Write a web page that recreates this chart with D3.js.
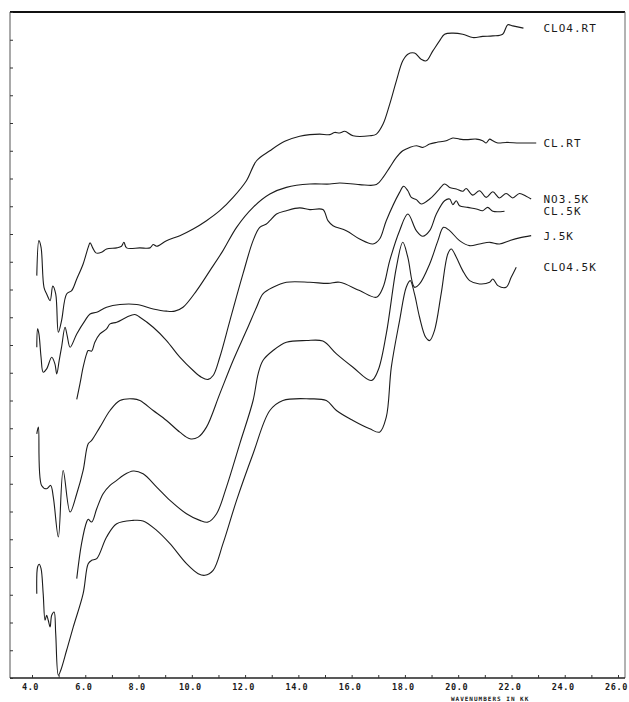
<!DOCTYPE html>
<html>
<head>
<meta charset="utf-8">
<script src="https://cdn.jsdelivr.net/npm/d3@7"></script>
<style>
  body { margin: 0; background: #ffffff; }
  svg text { font-family: "DejaVu Sans Mono", "Liberation Mono", monospace; fill: #1a1a1a; }
</style>
</head>
<body>
<svg id="chart" width="629" height="702"></svg>
<script>
// Reflectance spectra, offset vertically; x in wavenumbers (kK), y in arbitrary offset units.
const seriesNames = ["CLO4.RT", "CL.RT", "NO3.5K", "CL.5K", "J.5K", "CLO4.5K"];

const clo4RT = [
  [4.18,72.5],[4.26,78.8],[4.34,77.6],[4.45,70.4],[4.55,69.2],[4.68,68.0],[4.78,70.6],[4.89,69.2],
  [4.99,62.3],[5.11,64.4],[5.30,69.2],[5.49,69.8],[5.68,71.9],[5.92,74.6],[6.11,77.6],[6.18,78.4],
  [6.28,77.5],[6.40,76.6],[6.61,76.7],[6.80,77.3],[7.18,77.5],[7.36,77.8],[7.45,78.5],[7.55,77.5],
  [8.05,77.5],[8.43,77.5],[8.55,78.1],[8.68,77.8],[9.05,78.8],[9.55,79.7],[10.05,80.9],[10.55,82.4],
  [11.05,84.2],[11.55,86.6],[12.05,89.6],[12.43,93.2],[12.93,95.0],[13.49,96.7],[14.05,97.6],[14.43,97.9],
  [14.80,98.0],[15.18,97.9],[15.36,98.3],[15.55,98.2],[15.74,98.5],[16.05,97.7],[16.68,97.7],[16.93,98.0],
  [17.18,99.8],[17.43,103.4],[17.68,107.6],[17.92,111.2],[18.11,112.4],[18.36,112.6],[18.61,111.5],[18.80,111.2],
  [19.05,113.0],[19.30,114.8],[19.49,116.0],[19.80,116.2],[20.17,116.0],[20.55,115.4],[20.92,115.6],[21.30,115.7],
  [21.67,116.0],[21.86,117.7],[22.05,117.5],[22.45,117.1]
];

const clRT = [
  [4.18,59.6],[4.21,62.9],[4.26,62.0],[4.34,57.8],[4.42,55.1],[4.55,55.7],[4.74,57.8],[4.86,56.6],
  [4.93,54.8],[5.02,57.2],[5.11,59.6],[5.24,63.2],[5.32,61.7],[5.43,59.6],[5.68,62.0],[5.99,64.4],
  [6.18,65.6],[6.43,65.9],[6.80,66.8],[7.30,67.3],[7.93,67.3],[8.55,66.5],[9.05,66.1],[9.36,66.1],
  [9.67,66.8],[10.18,69.8],[10.68,73.4],[11.17,77.0],[11.68,81.2],[12.30,84.8],[12.93,87.2],[13.55,88.4],
  [14.43,89.0],[15.18,89.0],[15.55,89.2],[16.30,88.9],[16.93,88.9],[17.18,90.2],[17.43,92.0],[17.68,93.8],
  [17.92,95.0],[18.18,95.6],[18.43,95.9],[18.67,95.6],[18.93,96.2],[19.18,96.5],[19.55,96.8],[19.80,97.3],
  [20.05,97.1],[20.30,97.0],[20.68,97.1],[20.92,96.8],[21.05,96.4],[21.18,97.1],[21.30,96.8],[21.49,96.4],
  [21.80,96.5],[22.30,96.4],[22.93,96.4]
];

const no3K5 = [
  [5.68,50.2],[5.80,53.0],[5.92,56.0],[6.05,58.4],[6.11,59.0],[6.24,58.9],[6.36,60.5],[6.55,62.0],
  [6.80,62.9],[6.93,63.8],[7.18,64.1],[7.55,65.0],[7.86,65.5],[8.05,65.0],[8.55,63.2],[9.05,60.8],
  [9.55,57.8],[10.05,55.4],[10.36,54.2],[10.61,53.8],[10.80,54.5],[11.05,57.8],[11.43,64.4],[11.92,72.8],
  [12.30,78.8],[12.55,81.2],[12.80,81.8],[12.93,82.4],[13.18,83.6],[13.55,84.2],[14.05,84.7],[14.43,84.4],
  [14.92,84.4],[15.11,82.4],[15.30,81.5],[15.80,80.6],[16.30,79.1],[16.80,78.2],[17.05,79.1],[17.30,82.4],
  [17.80,87.5],[17.95,88.6],[18.11,87.8],[18.24,86.6],[18.43,86.2],[18.61,85.4],[18.93,86.3],[19.24,87.8],
  [19.49,89.0],[19.68,88.4],[19.93,88.1],[20.17,87.7],[20.30,88.2],[20.55,87.0],[20.80,87.8],[21.05,86.6],
  [21.30,87.6],[21.55,86.5],[21.80,87.3],[22.05,86.5],[22.30,87.3],[22.55,86.8],[22.74,86.3]
];

const clK5 = [
  [4.18,44.0],[4.24,45.2],[4.36,34.7],[4.55,34.1],[4.70,34.7],[4.80,32.6],[4.99,25.4],[5.17,37.4],
  [5.43,29.9],[5.68,33.2],[5.92,37.4],[6.11,42.2],[6.24,42.8],[6.55,45.2],[6.93,48.2],[7.30,50.0],
  [7.80,50.3],[8.05,50.0],[8.55,48.2],[9.05,46.4],[9.55,44.3],[9.93,43.1],[10.24,43.4],[10.55,45.2],
  [11.05,51.2],[11.55,57.2],[12.05,62.6],[12.43,66.8],[12.67,69.2],[13.05,70.4],[13.55,71.3],[14.43,71.3],
  [15.11,71.1],[15.55,71.3],[16.30,69.8],[16.93,68.6],[17.18,70.4],[17.43,75.2],[17.80,80.6],[18.11,83.6],
  [18.43,80.6],[18.67,79.6],[18.93,80.6],[19.18,83.6],[19.49,86.0],[19.68,86.3],[19.80,85.3],[19.93,86.0],
  [20.05,85.1],[20.36,84.8],[20.68,84.5],[20.92,84.2],[21.11,84.8],[21.30,84.1],[21.74,84.1]
];

const jK5 = [
  [5.68,17.9],[5.86,24.2],[6.05,28.1],[6.11,28.6],[6.24,28.1],[6.43,30.5],[6.67,33.2],[6.93,34.7],
  [7.18,35.6],[7.42,36.5],[7.80,37.3],[8.17,36.8],[8.68,34.4],[9.18,32.0],[9.80,29.6],[10.30,28.4],
  [10.61,28.1],[10.93,29.6],[11.30,34.4],[11.80,42.2],[12.30,50.0],[12.49,54.8],[12.67,57.2],[13.05,59.0],
  [13.55,60.5],[14.30,60.8],[14.92,60.7],[15.43,58.4],[16.05,56.0],[16.74,53.6],[16.99,55.4],[17.30,62.0],
  [17.68,74.0],[17.92,78.5],[18.11,75.8],[18.36,70.4],[18.55,71.0],[18.93,74.6],[19.24,78.8],[19.45,81.2],
  [19.68,80.6],[20.05,78.8],[20.43,77.9],[20.80,78.2],[21.18,78.5],[21.55,78.2],[21.93,78.8],[22.30,79.3],
  [22.74,79.7]
];

const clo4K5 = [
  [4.18,15.2],[4.21,20.0],[4.27,20.5],[4.34,19.7],[4.42,15.2],[4.49,10.4],[4.55,11.3],[4.61,10.4],
  [4.68,9.2],[4.74,11.3],[4.83,11.9],[4.89,8.0],[4.99,0.5],[5.08,1.4],[5.30,5.0],[5.55,9.2],
  [5.92,15.2],[6.11,20.6],[6.24,21.2],[6.43,21.5],[6.80,25.4],[7.18,27.8],[7.80,28.4],[8.17,28.3],
  [8.68,26.6],[9.18,24.2],[9.80,20.6],[10.24,18.8],[10.49,18.5],[10.80,19.4],[11.17,24.2],[11.68,32.0],
  [12.30,40.4],[12.93,48.2],[13.42,50.0],[14.43,50.3],[15.05,50.0],[15.43,48.2],[16.05,46.4],[16.68,44.9],
  [17.05,44.3],[17.30,47.0],[17.49,56.0],[17.80,64.4],[18.05,70.4],[18.20,71.6],[18.36,69.2],[18.55,65.0],
  [18.78,61.4],[18.93,60.8],[19.11,62.6],[19.36,69.2],[19.61,76.4],[19.74,77.3],[19.93,75.8],[20.17,73.4],
  [20.43,71.6],[20.80,71.0],[21.18,71.3],[21.30,71.9],[21.49,70.7],[21.80,70.4],[21.99,72.2],[22.18,74.0]
];

const seriesValues = [clo4RT, clRT, no3K5, clK5, jK5, clo4K5];

// Axis ticks and labels
const xTickValues = [4, 6, 8, 10, 12, 14, 16, 18, 20, 22, 24, 26];
const xTickLabels = ["4.0", "6.0", "8.0", "10.0", "12.0", "14.0", "16.0", "18.0", "20.0", "22.0", "24.0", "26.0"];
const xMinorTicks = d3.range(4, 27, 1);
const yTickValues = d3.range(0, 121, 5);
const xAxisTitle = "WAVENUMBERS IN KK";
const labelPosition = 23.2; // wavenumber at which the series names start

const svg = d3.select("#chart");

const x = d3.scaleLinear().domain([4, 26]).range([32, 618]);
const y = d3.scaleLinear().domain([0, 120]).range([678, 12]);

const frame = { left: 10, right: 625, top: 12, bottom: 678 };

// Frame
svg.append("line").attr("x1", frame.left).attr("x2", frame.right)
  .attr("y1", frame.top).attr("y2", frame.top)
  .attr("stroke", "#111").attr("stroke-width", 2);
svg.append("line").attr("x1", frame.left).attr("x2", frame.left)
  .attr("y1", frame.top).attr("y2", frame.bottom)
  .attr("stroke", "#555").attr("stroke-width", 1);
svg.append("line").attr("x1", frame.right).attr("x2", frame.right)
  .attr("y1", frame.top).attr("y2", frame.bottom)
  .attr("stroke", "#666").attr("stroke-width", 1);
svg.append("line").attr("x1", frame.left).attr("x2", frame.right)
  .attr("y1", frame.bottom).attr("y2", frame.bottom)
  .attr("stroke", "#222").attr("stroke-width", 1.3);

// Left axis ticks (no labels)
const yAxis = d3.axisRight(y).tickValues(yTickValues).tickSize(3).tickFormat("");
const gy = svg.append("g").attr("transform", `translate(${frame.left},0)`).call(yAxis);
gy.select(".domain").remove();
gy.selectAll(".tick line").attr("stroke", "#333");

// Bottom axis: minor ticks
const xMinor = d3.axisTop(x).tickValues(xMinorTicks).tickSize(3).tickFormat("");
const gxm = svg.append("g").attr("transform", `translate(0,${frame.bottom})`).call(xMinor);
gxm.select(".domain").remove();
gxm.selectAll(".tick line").attr("stroke", "#333");

// Bottom axis labels
const xAxis = d3.axisBottom(x).tickValues(xTickValues).tickSize(0)
  .tickFormat((d, i) => xTickLabels[i]);
const gx = svg.append("g").attr("transform", `translate(0,${frame.bottom})`).call(xAxis);
gx.select(".domain").remove();
gx.selectAll(".tick text")
  .attr("y", 6)
  .attr("dx", -2)
  .style("font-family", "'DejaVu Sans Mono', monospace")
  .style("font-size", "8.5px")
  .style("font-weight", "bold")
  .style("letter-spacing", "0.6px")
  .attr("fill", "#222");

svg.append("text")
  .attr("x", x(21.2)).attr("y", 701)
  .attr("text-anchor", "middle")
  .style("font-size", "6px")
  .style("font-weight", "bold")
  .style("letter-spacing", "1px")
  .text(xAxisTitle);

// Spectra
const line = d3.line()
  .x(d => x(d[0]))
  .y(d => y(d[1]))
  .curve(d3.curveCatmullRom.alpha(0.5));

svg.append("g").selectAll("path")
  .data(seriesValues)
  .join("path")
  .attr("d", line)
  .attr("fill", "none")
  .attr("stroke", "#1c1c1c")
  .attr("stroke-width", 1.1)
  .attr("stroke-linejoin", "round");

// Series names at the right end of each trace
svg.append("g").selectAll("text")
  .data(seriesNames)
  .join("text")
  .attr("x", x(labelPosition))
  .attr("y", (d, i) => y(seriesValues[i][seriesValues[i].length - 1][1]))
  .attr("dy", "0.35em")
  .style("font-size", "11px")
  .style("letter-spacing", "1px")
  .text(d => d);
</script>
</body>
</html>
